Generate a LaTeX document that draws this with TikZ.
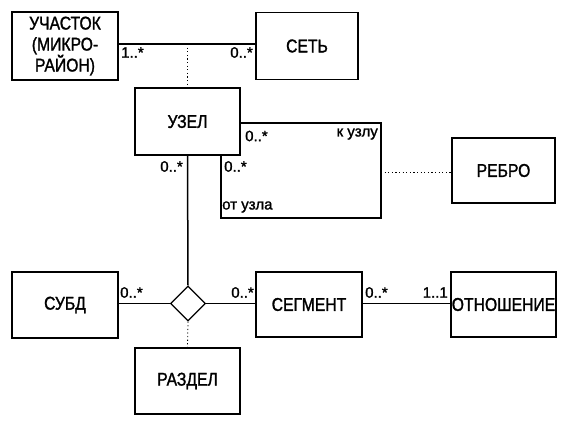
\documentclass[tikz,border=0pt]{standalone}
\usepackage{fontspec}
\setmainfont{Liberation Sans}[FakeStretch=0.85,FakeBold=1.4]
\newfontfamily\multfont{Liberation Sans}[FakeStretch=1.0,FakeBold=1.4]
\usetikzlibrary{shapes.geometric}
\begin{document}
\begin{tikzpicture}[x=1pt,y=-1pt,
  cls/.style={draw,line width=1.5pt,rectangle,inner sep=0pt,
    font=\fontsize{18.5}{21}\selectfont,align=center},
  link/.style={line width=1.5pt},
  dep/.style={line width=0.8pt,dash pattern=on 1.2pt off 2.4pt},
  mult/.style={font=\multfont\fontsize{15}{16}\selectfont,inner sep=0pt}]
\useasboundingbox (0,0) rectangle (568,421);
\node[cls,minimum width=106,minimum height=68] (uch) at (65,46) {УЧАСТОК\\(МИКРО-\\РАЙОН)};
\node[cls,minimum width=102,minimum height=67] (set) at (307,46) {СЕТЬ};
\node[cls,minimum width=105,minimum height=67] (uzel) at (187.5,121.5) {УЗЕЛ};
\node[cls,minimum width=103,minimum height=65] (rebro) at (503.5,170.5) {РЕБРО};
\node[cls,minimum width=106,minimum height=66] (subd) at (65,305) {СУБД};
\node[cls,minimum width=105,minimum height=66] (razdel) at (187.5,381) {РАЗДЕЛ};
\node[cls,minimum width=106,minimum height=65] (seg) at (309,304.5) {СЕГМЕНТ};
\node[cls,minimum width=105,minimum height=65] (otn) at (503.5,304.5) {ОТНОШЕНИЕ};
\node[draw,line width=1.2pt,diamond,aspect=1,inner sep=0pt,minimum size=35] (d) at (188,303.5) {};

% association УЧАСТОК - СЕТЬ
\draw[link] ([yshift=2]uch.east) -- coordinate[pos=0.5] (m) ([yshift=2]set.west);
\draw[dep] (m) -- (m |- uzel.north);
\node[mult,anchor=west] (l1) at (121,52.5) {1..*};
\node[mult,anchor=east] (l2) at (253,52.5) {0..*};

% self association of УЗЕЛ
\coordinate (c1) at (381,123);
\coordinate (c2) at (381,218);
\coordinate (c3) at (221,218);
\coordinate (c4) at (221,155);
\coordinate (r1) at (381,172);
\draw[link] ([yshift=-1.5]uzel.east) -- (c1) -- (c2) -- (c3) -- (c4);
\draw[dep] (r1) -- (rebro.west |- r1);
\node[mult,anchor=west] (l3) at (245,136) {0..*};
\node[mult,anchor=east] (l4) at (378,134) {к узлу};
\node[mult,anchor=west] (l5) at (224,166.5) {0..*};
\node[mult,anchor=west] (l6) at (222,207) {от узла};
\node[mult,anchor=east] (l7) at (183,166.5) {0..*};

% ternary association
\draw[link] (uzel.south) -- (d.north);
\draw[link] (subd.east |- d) -- (d.west);
\draw[link] (d.east) -- (seg.west |- d);
\draw[dep] (d.south) -- (razdel.north);
\draw[link] (seg.east |- d) -- (otn.west |- d);
\node[mult,anchor=west] (l8) at (120,292.5) {0..*};
\node[mult,anchor=east] (l9) at (254,292.5) {0..*};
\node[mult,anchor=west] (l10) at (365,292.5) {0..*};
\node[mult,anchor=east] (l11) at (448,292.5) {1..1};
\end{tikzpicture}
\end{document}
